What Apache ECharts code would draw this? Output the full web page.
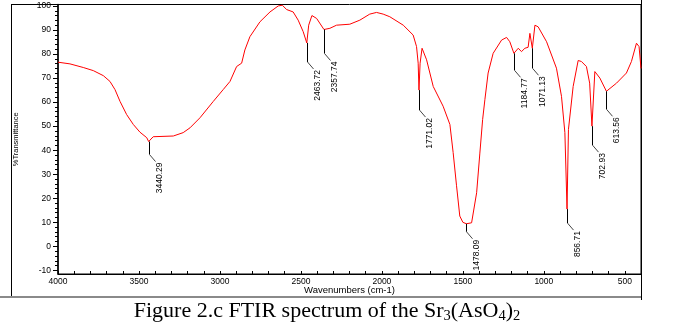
<!DOCTYPE html>
<html><head><meta charset="utf-8">
<script src="https://cdn.jsdelivr.net/npm/echarts@6/dist/echarts.min.js"></script>
<style>html,body{margin:0;padding:0;background:#fff;}#c{width:673px;height:324px;}</style>
</head><body><div id="c"></div>
<script>
// ---- data ----
const wavenumbers = [4000,3926,3844,3782,3720,3679,3648,3617,3576,3535,3494,3452,3440.29,3412,3288,3227,3185,3123,3041,2980,2938,2897,2866,2846,2815,2753,2691,2640,2615,2588,2548,2517,2486,2463.72,2452,2432,2403,2357.74,2321,2280,2198,2136,2075,2033,1992,1951,1868,1807,1786,1776,1771.02,1764,1752,1724,1683,1622,1580,1560,1539,1519,1500,1478.09,1446,1415,1395,1378,1364,1344,1313,1261,1230,1210,1184.77,1158,1138,1117,1097,1086,1071.13,1055,1035,983,922,891,870,856.71,848,819,788,768,737,717,702.93,685,654,613.56,551,490,459,428,412,400];
const transmittance = [76.6,75.9,74.4,73.1,71.0,68.6,65.2,60.3,54.8,50.7,47.5,45.2,43.6,45.6,45.9,47.3,49.3,53.5,60.3,65.2,68.6,74.8,76.2,81.7,87.2,93.4,97.5,100.0,100.3,98.5,97.5,94.1,89.3,84.6,92.0,96.0,94.8,90.2,90.7,92.0,92.4,94.1,96.6,97.3,96.6,95.5,92.0,87.9,83.1,76.2,65.0,76.2,82.4,77.6,66.5,58.3,50.7,39.0,25.2,12.6,10.0,9.4,9.8,22.3,38.8,52.7,61.0,72.1,80.3,85.8,86.9,85.1,80.3,82.4,81.0,82.4,82.8,88.6,82.4,92.0,91.3,85.1,74.1,62.4,47.3,15.5,48.6,66.5,77.3,76.9,74.8,67.9,50.0,72.7,70.0,64.5,67.9,72.1,76.9,84.5,83.1,74.0];
const peakWavenumbers = [3440.29,2463.72,2357.74,1771.02,1478.09,1184.77,1071.13,856.71,702.93,613.56];
const peakTransmittance = [43.6,84.6,90.2,65.0,9.4,80.3,82.4,15.5,50.0,64.5];
const peakLabels = ['3440.29','2463.72','2357.74','1771.02','1478.09','1184.77','1071.13','856.71','702.93','613.56'];
const xTickLabels = [4000,3500,3000,2500,2000,1500,1000,500];
const yTickLabels = [-10,0,10,20,30,40,50,60,70,80,90,100];
const xName = 'Wavenumbers (cm-1)';
const yName = '%Transmittance';

// ---- styles ----
const leaderLengths = [13,19,24,20,8,17,20,14,19,18];
const xMinorTicks = []; for (let v = 500; v <= 4000; v += 100) xMinorTicks.push(v);
const yMinorTicks = []; for (let v = -10; v <= 100; v += 2) yMinorTicks.push(v);

const chart = echarts.init(document.getElementById('c'), null, {renderer:'canvas'});
const lineData = wavenumbers.map((w,i)=>[w, transmittance[i]]);
const peakData = peakWavenumbers.map((w,i)=>[w, peakTransmittance[i]]);
const tickFont = {fontFamily:'"Liberation Sans", Arial, sans-serif', fontSize:8.5, color:'#000', formatter:function(v){return String(v);}};

chart.setOption({
  animation:false,
  grid:{left:58, right:32, top:4.5, bottom:50, show:true, borderColor:'#000', borderWidth:1, containLabel:false},
  xAxis:[{
    type:'value', min:400, max:4000, inverse:true, position:'bottom',
    axisLine:{show:true, onZero:false, lineStyle:{color:'#000', width:1}},
    axisTick:{show:true, inside:true, length:3, customValues:xMinorTicks, lineStyle:{color:'#000'}},
    axisLabel:Object.assign({customValues:xTickLabels, margin:3}, tickFont),
    splitLine:{show:false},
    name:xName, nameLocation:'middle', nameGap:11, nameMoveOverlap:false,
    nameTextStyle:{fontFamily:'"Liberation Sans", Arial, sans-serif', fontSize:9.5, color:'#000', verticalAlign:'top'}
  }],
  yAxis:[{
    type:'value', min:-11.5, max:100.6, position:'left',
    axisLine:{show:true, onZero:false, lineStyle:{color:'#000', width:1.5}},
    axisTick:{show:true, inside:false, length:5, customValues:yTickLabels, lineStyle:{color:'#000'}},
    axisLabel:Object.assign({customValues:yTickLabels, margin:7}, tickFont),
    splitLine:{show:false},
    name:yName, nameLocation:'middle', nameGap:38, nameRotate:90, nameMoveOverlap:false,
    nameTextStyle:{fontFamily:'"Liberation Sans", Arial, sans-serif', fontSize:7.5, color:'#000'}
  },{
    type:'value', min:-11.5, max:100.6, position:'left',
    axisLine:{show:false}, axisLabel:{show:false}, splitLine:{show:false},
    axisTick:{show:true, inside:false, length:3, customValues:yMinorTicks, lineStyle:{color:'#000'}}
  }],
  series:[{
    type:'line', data:lineData, showSymbol:false, symbol:'none',
    lineStyle:{color:'#ff0000', width:1}, z:2
  },{
    type:'custom', data:peakData, clip:false, z:3,
    renderItem:function(params, api){
      const p = api.coord([api.value(0), api.value(1)]);
      const i = params.dataIndex;
      const x = Math.round(p[0]) + 0.5;
      const y0 = p[1];
      const y1 = y0 + leaderLengths[i];
      const x2 = x + 6, y2 = y1 + 7;
      return {type:'group', children:[
        {type:'line', shape:{x1:x, y1:y0, x2:x, y2:y1}, style:{stroke:'#000', lineWidth:1}},
        {type:'line', shape:{x1:x, y1:y1, x2:x2, y2:y2}, style:{stroke:'#444', lineWidth:1}},
        {type:'text', x:x2+4, y:y2+1, rotation:Math.PI/2,
          style:{text:peakLabels[i], font:'8.5px "Liberation Sans Narrow", "Liberation Sans", Arial, sans-serif', fill:'#000', align:'right', verticalAlign:'middle'}}
      ]};
    }
  }],
  graphic:[
    {type:'line', shape:{x1:11.5, y1:4.5, x2:11.5, y2:296}, style:{stroke:'#000', lineWidth:1}, silent:true},
    {type:'line', shape:{x1:11, y1:4.5, x2:58, y2:4.5}, style:{stroke:'#000', lineWidth:1}, silent:true},
    {type:'line', shape:{x1:641.5, y1:0, x2:641.5, y2:300}, style:{stroke:'#000', lineWidth:1}, silent:true},
    {type:'line', shape:{x1:0, y1:297, x2:641, y2:297}, style:{stroke:'#8a8a8a', lineWidth:2}, silent:true},
    {type:'text', x:327, y:311, silent:true,
      style:{text:'{n|Figure 2.c FTIR spectrum of the Sr}{s|3}{n|(AsO}{s|4}{n|)}{s|2}',
        align:'center', verticalAlign:'middle',
        rich:{
          n:{fontFamily:'"Liberation Serif", "Times New Roman", serif', fontSize:22, lineHeight:24, fill:'#000'},
          s:{fontFamily:'"Liberation Serif", "Times New Roman", serif', fontSize:14.5, lineHeight:14, padding:[10,0,0,0], fill:'#000'}
        }}}
  ]
});
</script></body></html>
